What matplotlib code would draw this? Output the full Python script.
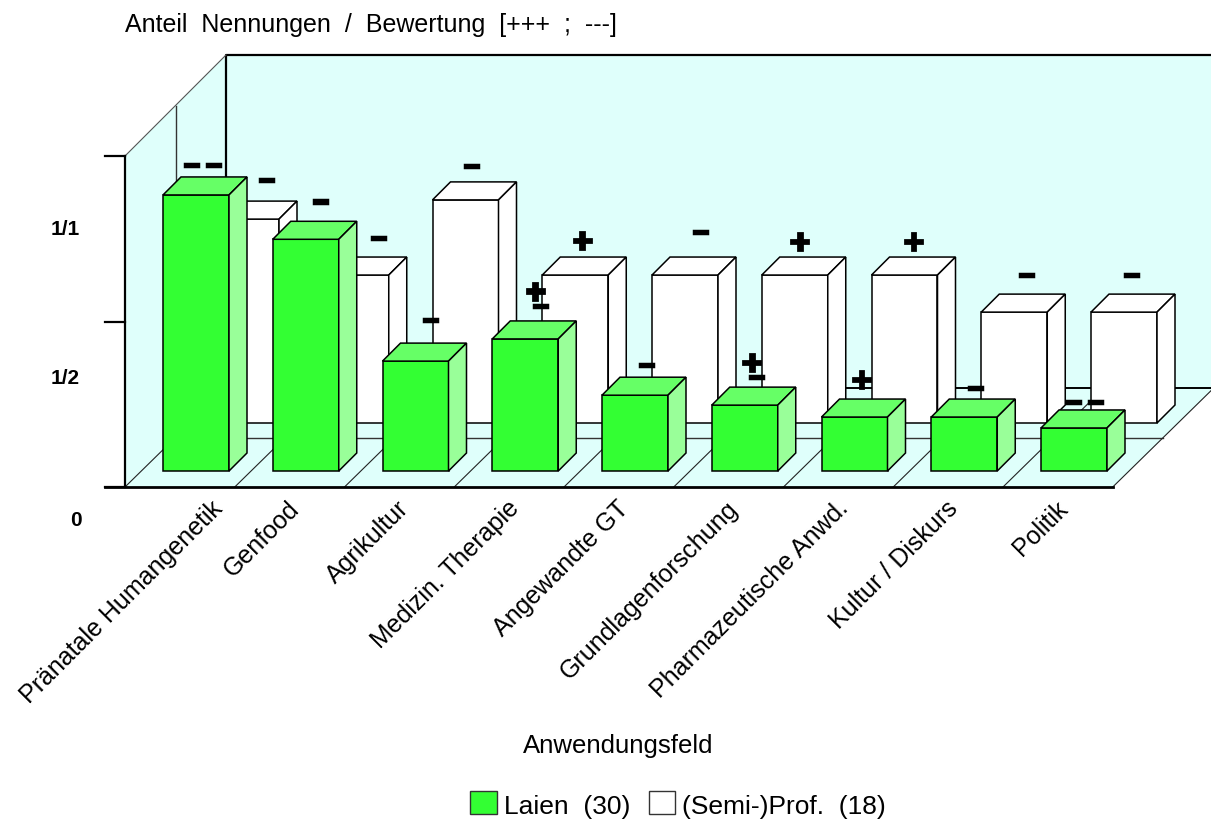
import matplotlib
matplotlib.use('Agg')
import matplotlib.pyplot as plt
from matplotlib.patches import Polygon, Rectangle
import matplotlib.patheffects as pe

plt.rcParams['font.family'] = ['Liberation Sans', 'DejaVu Sans']

categories = ['Pränatale Humangenetik', 'Genfood', 'Agrikultur', 'Medizin. Therapie', 'Angewandte GT',
              'Grundlagenforschung', 'Pharmazeutische Anwd.', 'Kultur / Diskurs', 'Politik']
laien = [0.834, 0.70, 0.332, 0.399, 0.229, 0.199, 0.163, 0.163, 0.130]
prof = [0.616, 0.447, 0.674, 0.447, 0.447, 0.447, 0.447, 0.335, 0.335]
laien_marks = ['– –', '–', '–', '+–', '–', '+–', '+', '–', '– –']
prof_marks = ['–', '–', '–', '+', '–', '+', '+', '–', '–']
tick_values = [0, 0.5, 1]
tick_labels = ['0', '1/2', '1/1']

PX_X = 109.75   # pixels per category
PX_Y = 331.0    # pixels per unit of value


def dx(px):
    return px / PX_X


def dy(px):
    return px / PX_Y


W, H = 1211, 821
fig = plt.figure(figsize=(W / 100, H / 100), dpi=100)
ax = fig.add_axes([0, 0, 1, 1])
ax.set_xlim(-196 / PX_X, (W - 196) / PX_X)
ax.set_ylim((487 - H) / PX_Y, 487 / PX_Y)
ax.axis('off')

# walls and floor
wall = '#DFFFFB'
x0 = dx(125 - 196)
n = len(categories)
x1 = x0 + n * 1.0
ox, oy = dx(101), dy(99)
xr = dx(W - 196)
top = dy(487 - 156)
wall_top = dy(487 - 55)
ax.add_patch(Polygon([(x0, 0), (x0, top), (x0 + ox, wall_top), (xr, wall_top), (xr, oy), (x1 + ox, oy), (x1, 0)],
                     facecolor=wall, edgecolor='none', zorder=1))
ax.plot([x0 + ox, x0 + ox, xr], [oy, wall_top, wall_top], color='black', lw=1.6, zorder=2, solid_capstyle='projecting')
ax.plot([x0 + ox, xr], [oy, oy], color='black', lw=1.4, zorder=2)
ax.plot([x0, x0 + ox], [top, wall_top], color='#555555', lw=0.8, zorder=2)
ax.plot([x0 + ox / 2, x0 + ox / 2, x1 + ox / 2], [(top + wall_top) / 2, oy / 2, oy / 2], color='#333333', lw=1.0, zorder=2)
for i in range(n + 1):
    ax.plot([x0 + i, x0 + i + ox], [0, oy], color='#222222', lw=0.8, zorder=2)
ax.plot([x0, x0], [0, top], color='black', lw=1.6, zorder=2)
ax.plot([x0 - dx(20), x1], [0, 0], color='black', lw=2.0, zorder=3)
for t in tick_values:
    ax.plot([x0 - dx(20), x0], [t, t], color='black', lw=1.6, zorder=3)

tick_label_x = [76, 65, 65]
tick_label_y = [520, 378, 229]
for t, lab, lx, ly in zip(tick_values, tick_labels, tick_label_x, tick_label_y):
    ax.text(dx(lx - 196), dy(487 - ly), lab, fontsize=15, fontweight='bold', ha='center', va='center')

BAR_W = dx(66)
DEPTH_X, DEPTH_Y = dx(18), dy(18)


def draw_bars(values, x_shift, base, front, top_col, side, z):
    xs = [i + x_shift for i in range(len(values))]
    ax.bar(xs, values, width=BAR_W, bottom=base, color=front, edgecolor='black', linewidth=1.1, zorder=z)
    for x, v in zip(xs, values):
        l, r = x - BAR_W / 2, x + BAR_W / 2
        t = base + v
        ax.add_patch(Polygon([(l, t), (r, t), (r + DEPTH_X, t + DEPTH_Y), (l + DEPTH_X, t + DEPTH_Y)],
                             facecolor=top_col, edgecolor='black', linewidth=1.1, zorder=z))
        ax.add_patch(Polygon([(r, base), (r, t), (r + DEPTH_X, t + DEPTH_Y), (r + DEPTH_X, base + DEPTH_Y)],
                             facecolor=side, edgecolor='black', linewidth=1.1, zorder=z))


prof_shift = dx(50)
prof_base = dy(64)
laien_base = dy(16)
draw_bars(prof, prof_shift, prof_base, 'white', 'white', 'white', 4)
draw_bars(laien, 0, laien_base, '#33FF33', '#66FF66', '#99FF99', 5)

# rating marks: x offset from the bar centre, y offset above the back edge of the top face
laien_off = [(6, 12), (15, 20), (15, 23), (15, 15), (11, 12), (12, 10), (7, 20), (11, 11), (10, 8)]
prof_off = [(20, 21), (23, 19), (6, 16), (7, 17), (15, 25), (5, 16), (9, 16), (12, 19), (7, 19)]
dash_fx = [pe.withStroke(linewidth=2.5, foreground='black', joinstyle='miter')]
plus_fx = [pe.withStroke(linewidth=2.0, foreground='black', joinstyle='miter')]


def draw_marks(values, marks, offs, x_shift, base):
    for i, (v, m, (ox_px, oy_px)) in enumerate(zip(values, marks, offs)):
        x = i + x_shift + dx(ox_px)
        y = base + v + DEPTH_Y + dy(oy_px)
        if m.startswith('+') and len(m) > 1:
            # plus sits over the dash and slightly to the left
            ax.text(x - dx(5), y + dy(3), '+', fontsize=25, fontweight='bold', ha='center', va='baseline',
                    path_effects=plus_fx, zorder=7)
            ax.text(x, y - dy(7), m[1:], fontsize=19, fontweight='bold', ha='center', va='baseline',
                    path_effects=dash_fx, zorder=7)
        elif m == '+':
            ax.text(x, y - dy(12), m, fontsize=25, fontweight='bold', ha='center', va='baseline',
                    path_effects=plus_fx, zorder=7)
        else:
            ax.text(x, y - dy(7), m, fontsize=19, fontweight='bold', ha='center', va='baseline',
                    path_effects=dash_fx, zorder=7)


draw_marks(laien, laien_marks, laien_off, 0, laien_base)
draw_marks(prof, prof_marks, prof_off, prof_shift, prof_base)

# category labels, the first one sits further right in the original
label_shift = [23, -10, -10, -10, -10, -10, -10, -10, -10]
for i, c in enumerate(categories):
    ax.text(i + dx(label_shift[i]), dy(-18), c, rotation=45, rotation_mode='anchor', ha='right', va='center',
            fontsize=18)

ax.text(dx(125 - 196), dy(487 - 25), 'Anteil  Nennungen  /  Bewertung  [+++  ;  ---]', fontsize=18, ha='left', va='center')
ax.text(dx(618 - 196), dy(487 - 746), 'Anwendungsfeld', fontsize=18.5, ha='center', va='center')

# legend
ax.add_patch(Rectangle((dx(470 - 196), dy(487 - 814)), dx(27), dy(23), facecolor='#33FF33', edgecolor='#333333', linewidth=1.0, zorder=6))
ax.add_patch(Rectangle((dx(649 - 196), dy(487 - 814)), dx(26), dy(23), facecolor='white', edgecolor='#333333', linewidth=1.0, zorder=6))
ax.text(dx(504 - 196), dy(487 - 807), 'Laien  (30)', fontsize=19, ha='left', va='center')
ax.text(dx(682 - 196), dy(487 - 807), '(Semi-)Prof.  (18)', fontsize=19, ha='left', va='center')

fig.savefig('out.png', dpi=100)
